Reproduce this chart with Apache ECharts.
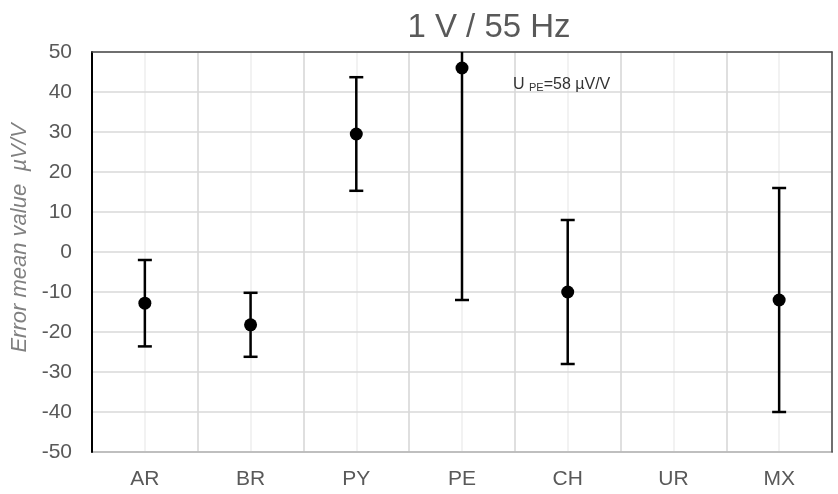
<!DOCTYPE html>
<html><head><meta charset="utf-8">
<script src="https://cdn.jsdelivr.net/npm/echarts@6/dist/echarts.min.js"></script>
<style>html,body{margin:0;padding:0;background:#fff}#c{width:838px;height:494px}</style>
</head><body><div id="c"></div>
<script>
const categories = ['AR','BR','PY','PE','CH','UR','MX'];
const meanValues = [-12.8, -18.2, 29.5, 46, -10, null, -12];
const uncertainty = [10.8, 8, 14.2, 58, 18, null, 28];
const yTicks = {min: -50, max: 50, interval: 10};

const FONT = 'Arial, "Liberation Sans", sans-serif';
const chart = echarts.init(document.getElementById('c'));
const points = categories.map((c, i) => [i, meanValues[i]]).filter(p => p[1] !== null);
const bars = categories.map((c, i) => [i, meanValues[i], uncertainty[i]]).filter(p => p[1] !== null);

chart.setOption({
  animation: false,
  title: {text: '1 V / 55 Hz', left: 484, textAlign: 'center', top: 6,
    textStyle: {fontFamily: FONT, fontWeight: 'normal', fontSize: 33, color: '#595959'}},
  grid: {left: 92, right: 6, top: 52, bottom: 42, containLabel: false, outerBoundsMode: 'none'},
  xAxis: [{
    type: 'category', data: categories, boundaryGap: true, position: 'bottom',
    axisLine: {show: true, onZero: false, lineStyle: {color: '#4a4a4a', width: 1.5}},
    axisTick: {show: false},
    axisLabel: {color: '#595959', fontSize: 21, margin: 17, fontFamily: FONT},
    splitLine: {show: true, lineStyle: {color: '#d9d9d9', width: 1.5}}, z: 3
  }, {
    type: 'value', min: 0, max: 7, interval: 0.5, position: 'bottom',
    axisLine: {show: false, onZero: false}, axisTick: {show: false}, axisLabel: {show: false},
    splitLine: {show: true, lineStyle: {color: '#eeeeee', width: 1.5}}, z: 1
  }, {
    type: 'category', data: categories, position: 'top',
    axisLine: {show: true, onZero: false, lineStyle: {color: '#4a4a4a', width: 1.5}},
    axisTick: {show: false}, axisLabel: {show: false}, splitLine: {show: false}, z: 4
  }],
  yAxis: [{
    type: 'value', min: yTicks.min, max: yTicks.max, interval: yTicks.interval,
    name: 'Error mean value  µV/V', nameLocation: 'middle', nameGap: 59,
    nameTextStyle: {color: '#808080', fontSize: 22, fontStyle: 'italic', fontFamily: FONT, padding: [0, 0, 0, 28]},
    axisLine: {show: true, onZero: false, lineStyle: {color: '#000', width: 2}},
    axisTick: {show: false},
    axisLabel: {color: '#595959', fontSize: 21, margin: 20, fontFamily: FONT},
    splitLine: {show: true, lineStyle: {color: '#d9d9d9', width: 1.5}}, z: 4
  }, {
    type: 'value', min: yTicks.min, max: yTicks.max, interval: yTicks.interval, position: 'right',
    axisLine: {show: true, onZero: false, lineStyle: {color: '#4a4a4a', width: 1.5}},
    axisTick: {show: false}, axisLabel: {show: false}, splitLine: {show: false}, z: 4
  }],
  graphic: [{
    type: 'text', left: 513, top: 77, z: 10,
    style: {
      text: '{a|U }{b|PE}{a|=58 µV/V}',
      rich: {
        a: {fontSize: 16, fill: '#333', fontFamily: FONT, verticalAlign: 'bottom'},
        b: {fontSize: 11, fill: '#333', fontFamily: FONT, verticalAlign: 'bottom', padding: [6, 0, 0, 0]}
      }
    }
  }],
  series: [{
    type: 'custom', xAxisIndex: 0, yAxisIndex: 0, clip: true, z: 5,
    data: bars,
    renderItem: function (params, api) {
      const x = api.value(0), m = api.value(1), u = api.value(2);
      const top = api.coord([x, m + u]);
      const bot = api.coord([x, m - u]);
      const cap = 7;
      const s = {stroke: '#000', lineWidth: 2.5};
      return {type: 'group', children: [
        {type: 'line', shape: {x1: top[0], y1: top[1], x2: bot[0], y2: bot[1]}, style: s},
        {type: 'line', shape: {x1: top[0] - cap, y1: top[1], x2: top[0] + cap, y2: top[1]}, style: s},
        {type: 'line', shape: {x1: bot[0] - cap, y1: bot[1], x2: bot[0] + cap, y2: bot[1]}, style: s}
      ]};
    }
  }, {
    type: 'scatter', xAxisIndex: 0, yAxisIndex: 0, data: points, symbol: 'circle', symbolSize: 13, z: 6,
    itemStyle: {color: '#000', opacity: 1}
  }]
});
</script></body></html>
